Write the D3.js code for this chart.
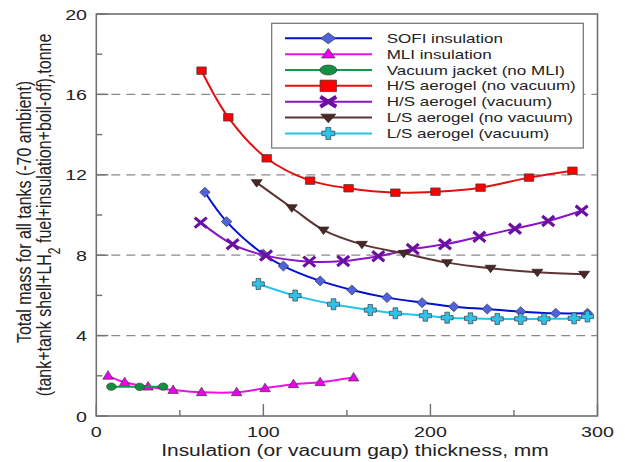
<!DOCTYPE html>
<html lang="en">
<head>
<meta charset="utf-8">
<title>Total mass vs insulation thickness</title>
<script src="https://cdn.jsdelivr.net/npm/d3@7"></script>
<style>
  body { margin: 0; background: #fff; }
  text { font-family: "Liberation Sans", Arial, sans-serif; fill: #222; }
</style>
</head>
<body>
<script>
// series data (x = thickness in mm, y = tonne)
var sofiX = [65, 78, 100, 112, 134, 153, 174, 195, 214, 234, 254, 275, 294];
var sofiY = [11.13, 9.67, 8.05, 7.46, 6.72, 6.27, 5.89, 5.64, 5.44, 5.32, 5.19, 5.11, 5.11];
var mliX = [7, 17, 31, 46, 63, 84, 101, 118, 134, 154];
var mliY = [2.0, 1.68, 1.46, 1.29, 1.18, 1.18, 1.38, 1.58, 1.68, 1.91];
var vjX = [9, 26, 40];
var vjY = [1.46, 1.45, 1.46];
var hsnvX = [63, 79, 102, 128, 151, 179, 203, 230, 259, 285];
var hsnvY = [17.18, 14.86, 12.82, 11.71, 11.33, 11.11, 11.16, 11.36, 11.86, 12.2];
var hsvX = [62.5, 81.6, 101.6, 127.5, 147.8, 168.8, 189.4, 208.7, 229.3, 250.6, 270.5, 290.5];
var hsvY = [9.62, 8.54, 7.98, 7.68, 7.71, 7.95, 8.31, 8.54, 8.92, 9.32, 9.7, 10.21];
var lsnvX = [96, 117, 136, 159, 184, 210, 236, 264, 292];
var lsnvY = [11.61, 10.36, 9.25, 8.54, 8.09, 7.63, 7.35, 7.15, 7.05];
var lsvX = [97, 119, 142, 164, 179, 197, 210, 224, 240, 254, 268, 286, 294];
var lsvY = [6.57, 5.99, 5.56, 5.27, 5.11, 4.99, 4.89, 4.86, 4.83, 4.83, 4.83, 4.86, 4.95];

var seriesNames = ["SOFI insulation", "MLI insulation", "Vacuum jacket (no MLI)",
  "H/S aerogel (no vacuum)", "H/S aerogel (vacuum)", "L/S aerogel (no vacuum)", "L/S aerogel (vacuum)"];
var xTicks = [0, 100, 200, 300];
var xMinor = [50, 150, 250];
var yTicks = [0, 4, 8, 12, 16, 20];
var yMinor = [2, 6, 10, 14, 18];
var gridY = [4, 8, 12, 16];

var w = 625, h = 462;
var sx = 1.31; // the reference is stretched sideways

// mw/mh = marker size on the plot, lw/lh = bigger marker in the legend
var series = [
  {name: seriesNames[0], xs: sofiX, ys: sofiY, line: "#0010d0", fill: "#4f62e2", sym: "diamond", mw: 10.5, mh: 10, lw: 15, lh: 11},
  {name: seriesNames[1], xs: mliX, ys: mliY, line: "#ee10ee", fill: "#ee00ee", sym: "tup", mw: 10.5, mh: 8.5, lw: 13.5, lh: 9.5},
  {name: seriesNames[2], xs: vjX, ys: vjY, line: "#16984a", fill: "#129040", sym: "circle", mw: 9.4, mh: 7.4, lw: 17, lh: 10},
  {name: seriesNames[3], xs: hsnvX, ys: hsnvY, line: "#e41010", fill: "#ff0000", sym: "square", mw: 9.5, mh: 7.5, lw: 16.5, lh: 11.5},
  {name: seriesNames[4], xs: hsvX, ys: hsvY, line: "#8a14c8", fill: "#6a10a0", sym: "x", mw: 12, mh: 10, lw: 16, lh: 10},
  {name: seriesNames[5], xs: lsnvX, ys: lsnvY, line: "#5c3434", fill: "#4a2828", sym: "tdown", mw: 11, mh: 7.5, lw: 15, lh: 8.5},
  {name: seriesNames[6], xs: lsvX, ys: lsvY, line: "#22c4ea", fill: "#2ec2ea", sym: "plus", mw: 12, mh: 11, lw: 13, lh: 12}
];

var x = d3.scaleLinear().domain([0, 300]).range([96.3, 597.5]);
var y = d3.scaleLinear().domain([0, 20]).range([416, 14]);

var svg = d3.select("body").append("svg").attr("width", w).attr("height", h);

// dashed grid
svg.selectAll("line.grid").data(gridY).enter().append("line")
  .attr("class", "grid")
  .attr("x1", x(0)).attr("x2", x(300))
  .attr("y1", function(d) { return y(d); }).attr("y2", function(d) { return y(d); })
  .attr("stroke", "#8a8a8a").attr("stroke-width", 1.3).attr("stroke-dasharray", "9,6");

// frame
svg.append("rect")
  .attr("x", x(0)).attr("y", y(20))
  .attr("width", x(300) - x(0)).attr("height", y(0) - y(20))
  .attr("fill", "none").attr("stroke", "#707070").attr("stroke-width", 1.6);

// ticks (inward)
function tickLines(vals, len, axis) {
  svg.selectAll(null).data(vals).enter().append("line")
    .attr("x1", function(d) { return axis == "x" ? x(d) : x(0); })
    .attr("x2", function(d) { return axis == "x" ? x(d) : x(0) + len; })
    .attr("y1", function(d) { return axis == "x" ? y(0) : y(d); })
    .attr("y2", function(d) { return axis == "x" ? y(0) - len : y(d); })
    .attr("stroke", "#707070").attr("stroke-width", 1.4);
}
tickLines(xTicks, 12, "x");
tickLines(xMinor, 6, "x");
tickLines(yTicks, 12, "y");
tickLines(yMinor, 6, "y");

// text helper, stretched sideways like the reference
function label(px, py, str, size, anchor, rot) {
  var t = svg.append("text")
    .attr("transform", "translate(" + px + "," + py + ") scale(" + sx + ",1)" + (rot ? " rotate(" + rot + ")" : ""))
    .attr("font-size", size + "px")
    .attr("text-anchor", anchor)
    .text(str);
  return t;
}

xTicks.forEach(function(d) { label(x(d), 437, d, 15, "middle"); });
yTicks.forEach(function(d) { label(87, y(d) + 5.5, d, 15, "end"); });

label((x(0) + x(300)) / 2 + 8, 456, "Insulation (or vacuum gap) thickness, mm", 16, "middle");
label(31, 212, "Total mass for all tanks (-70 ambient)", 16, "middle", -90);
var t2 = label(51, 215, "(tank+tank shell+LH", 16, "middle", -90);
t2.append("tspan").attr("baseline-shift", "sub").attr("font-size", "12px").text("2");
t2.append("tspan").text(" fuel+insulation+boil-off),tonne");

// lines
var line = d3.line().curve(d3.curveCatmullRom.alpha(0.5));

// marker shapes drawn from a width and height
function shape(sym, mw, mh) {
  var a = mw / 2, b = mh / 2;
  if (sym == "diamond") return "M0," + (-b) + "L" + a + ",0L0," + b + "L" + (-a) + ",0Z";
  if (sym == "tup") return "M0," + (-b * 1.2) + "L" + a + "," + (b * 0.8) + "L" + (-a) + "," + (b * 0.8) + "Z";
  if (sym == "tdown") return "M0," + (b * 1.2) + "L" + a + "," + (-b * 0.8) + "L" + (-a) + "," + (-b * 0.8) + "Z";
  if (sym == "square") return "M" + (-a) + "," + (-b) + "H" + a + "V" + b + "H" + (-a) + "Z";
  if (sym == "circle") return "M" + (-a) + ",0A" + a + "," + b + " 0 1,0 " + a + ",0A" + a + "," + b + " 0 1,0 " + (-a) + ",0Z";
  if (sym == "x") return "M" + (-a) + "," + (-b) + "L" + a + "," + b + "M" + (-a) + "," + b + "L" + a + "," + (-b);
  // plus, outlined
  var ta = mw * 0.19, tb = mh * 0.19;
  return "M" + (-ta) + "," + (-b) + "H" + ta + "V" + (-tb) + "H" + a + "V" + tb + "H" + ta + "V" + b +
    "H" + (-ta) + "V" + tb + "H" + (-a) + "V" + (-tb) + "H" + (-ta) + "Z";
}

function marker(g, s, px, py, big) {
  var mw = big ? s.lw : s.mw, mh = big ? s.lh : s.mh;
  var m = g.append("path").attr("d", shape(s.sym, mw, mh))
    .attr("transform", "translate(" + px + "," + py + ")");
  if (s.sym == "x") {
    m.attr("fill", "none").attr("stroke", s.fill).attr("stroke-width", big ? 4 : 3.2);
  } else {
    m.attr("fill", s.fill).attr("stroke", s.sym == "tdown" ? "#2a1a1a" : "#3a3a3a").attr("stroke-width", 0.7);
  }
  return m;
}

series.forEach(function(s) {
  var pts = s.xs.map(function(v, i) { return [x(v), y(s.ys[i])]; });
  svg.append("path").attr("d", line(pts))
    .attr("fill", "none").attr("stroke", s.line).attr("stroke-width", 2);
  var g = svg.append("g");
  pts.forEach(function(p) { marker(g, s, p[0], p[1], false); });
});

// legend
var lg = svg.append("g");
lg.append("rect").attr("x", 271.7).attr("y", 23.3).attr("width", 311.6).attr("height", 124.7)
  .attr("fill", "#fff").attr("stroke", "#707070").attr("stroke-width", 1.2);
series.forEach(function(s, i) {
  var ly = 38.3 + i * 15.85;
  lg.append("line").attr("x1", 285).attr("x2", 372).attr("y1", ly).attr("y2", ly)
    .attr("stroke", s.line).attr("stroke-width", 2);
  marker(lg, s, 328.3, ly, true);
  label(386.7, ly + 4.6, s.name, 13, "start");
});
</script>
</body>
</html>
